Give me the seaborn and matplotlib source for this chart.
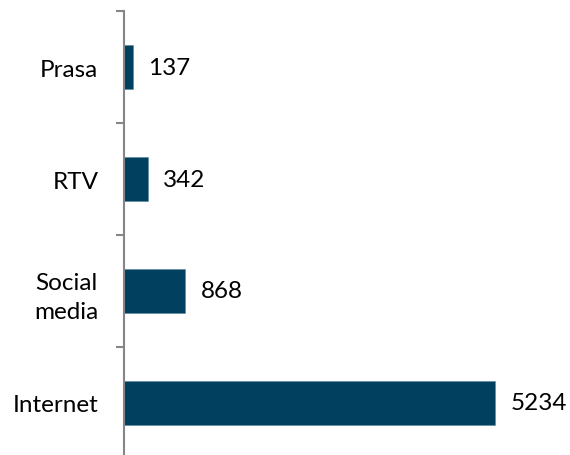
import matplotlib
matplotlib.use("Agg")
import matplotlib.pyplot as plt
import seaborn as sns
import pandas as pd
from matplotlib.ticker import FixedLocator

categories = ["Prasa", "RTV", "Social\nmedia", "Internet"]
values = [137, 342, 868, 5234]
value_labels = ["137", "342", "868", "5234"]

sns.set_style("white")
plt.rcParams['font.family'] = ['Lato', 'DejaVu Sans']

df = pd.DataFrame({"cat": categories, "val": values})

fig = plt.figure(figsize=(5.7, 4.56), dpi=100)
ax = fig.add_axes([123.5 / 570, -4 / 456, 425.9 / 570, 448 / 456])

sns.barplot(data=df, y="cat", x="val", orient="h", color="#02405f",
            width=0.393, saturation=1, ax=ax, edgecolor="#5a86a0", linewidth=0.4)

ax.set_xlim(0, 6000)
ax.set_ylim(3.5, -0.5)
ax.set_xlabel("")
ax.set_ylabel("")
ax.set_xticks([])

for s in ["top", "right", "bottom"]:
    ax.spines[s].set_visible(False)
ax.spines["left"].set_color("#868686")
ax.spines["left"].set_linewidth(1.5)

ax.tick_params(axis="y", which="major", length=0, pad=18, labelsize=17.5, labelcolor="#000000")
for t in ax.get_yticklabels():
    t.set_multialignment("center")
    t.set_linespacing(1.45)
ax.yaxis.set_minor_locator(FixedLocator([-0.5, 0.5, 1.5, 2.5, 3.5]))
ax.tick_params(axis="y", which="minor", length=5.5, width=1.5, color="#868686", left=True)

for i, (v, lab) in enumerate(zip(values, value_labels)):
    ax.annotate(lab, xy=(v, i), xytext=(11, 0), textcoords="offset points",
                va="center", ha="left", fontsize=17.5, color="#000000")

fig.savefig("out.png", dpi=100)
